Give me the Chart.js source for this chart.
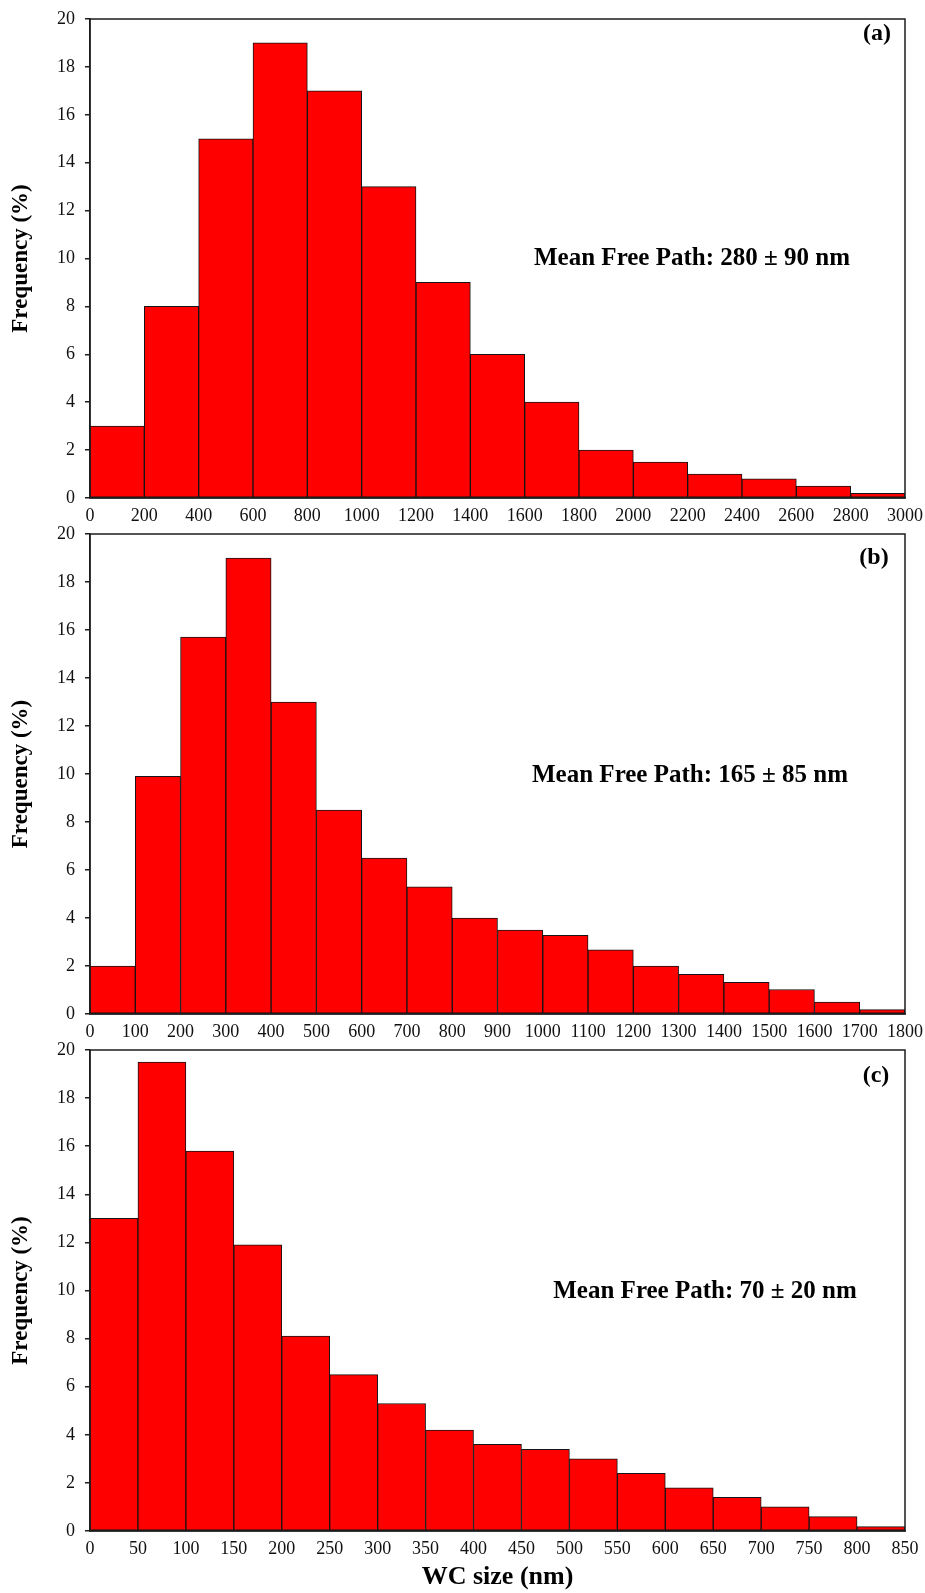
<!DOCTYPE html>
<html>
<head>
<meta charset="utf-8">
<script src="https://cdn.jsdelivr.net/npm/chart.js@4.4.1/dist/chart.umd.min.js"></script>
<style>
  html, body { margin: 0; padding: 0; background: #fff; }
  #wrap { position: relative; width: 925px; height: 1593px; background: #fff; }
  .panel { position: absolute; left: 0; width: 925px; }
</style>
</head>
<body>
<div id="wrap">
  <div class="panel" style="top:0;height:530px"><canvas id="chartA"></canvas></div>
  <div class="panel" style="top:520px;height:520px"><canvas id="chartB"></canvas></div>
  <div class="panel" style="top:1040px;height:553px"><canvas id="chartC"></canvas></div>
</div>
<script>
// (a) bins of 200 nm
const binsA = ['0-200', '200-400', '400-600', '600-800', '800-1000', '1000-1200', '1200-1400',
  '1400-1600', '1600-1800', '1800-2000', '2000-2200', '2200-2400', '2400-2600', '2600-2800', '2800-3000'];
const freqA = [3, 8, 15, 19, 17, 13, 9, 6, 4, 2, 1.5, 1, 0.8, 0.5, 0.2];
const ticksA = [0, 200, 400, 600, 800, 1000, 1200, 1400, 1600, 1800, 2000, 2200, 2400, 2600, 2800, 3000];

// (b) bins of 100 nm
const binsB = ['0-100', '100-200', '200-300', '300-400', '400-500', '500-600', '600-700', '700-800', '800-900',
  '900-1000', '1000-1100', '1100-1200', '1200-1300', '1300-1400', '1400-1500', '1500-1600', '1600-1700', '1700-1800'];
const freqB = [2, 9.9, 15.7, 19, 13, 8.5, 6.5, 5.3, 4, 3.5, 3.28, 2.67, 2, 1.65, 1.32, 1.02, 0.5, 0.18];
const ticksB = [0, 100, 200, 300, 400, 500, 600, 700, 800, 900, 1000, 1100, 1200, 1300, 1400, 1500, 1600, 1700, 1800];

// (c) bins of 50 nm
const binsC = ['0-50', '50-100', '100-150', '150-200', '200-250', '250-300', '300-350', '350-400', '400-450',
  '450-500', '500-550', '550-600', '600-650', '650-700', '700-750', '750-800', '800-850'];
const freqC = [13, 19.5, 15.8, 11.9, 8.1, 6.5, 5.3, 4.2, 3.6, 3.4, 3.0, 2.4, 1.8, 1.4, 1.0, 0.6, 0.18];
const ticksC = [0, 50, 100, 150, 200, 250, 300, 350, 400, 450, 500, 550, 600, 650, 700, 750, 800, 850];

const yTicks = [0, 2, 4, 6, 8, 10, 12, 14, 16, 18, 20];

const serif = '"Liberation Serif", "Times New Roman", serif';
const ink = '#1c1c1c';

// box round the plot area plus the free-text labels
const framePlugin = {
  id: 'frame',
  afterDraw(chart, args, opts) {
    const { ctx, chartArea: a } = chart;
    ctx.save();
    ctx.strokeStyle = ink;
    ctx.lineWidth = 1.5;
    ctx.strokeRect(a.left, a.top, a.right - a.left, a.bottom - a.top);
    ctx.fillStyle = '#000';
    ctx.textAlign = 'center';
    ctx.textBaseline = 'middle';
    ctx.font = 'bold 25px ' + serif;
    ctx.fillText(opts.note, opts.noteX, opts.noteY);
    ctx.font = 'bold 24px ' + serif;
    ctx.fillText(opts.tag, opts.tagX, opts.tagY);
    ctx.restore();
  }
};

function makeChart(id, bins, freq, ticks, o) {
  return new Chart(document.getElementById(id), {
    type: 'bar',
    data: {
      labels: bins,
      datasets: [{
        data: freq,
        xAxisID: 'xb',
        yAxisID: 'y',
        backgroundColor: '#ff0000',
        borderColor: '#141414',
        borderWidth: 1,
        borderSkipped: false,
        barPercentage: 1,
        categoryPercentage: 1,
      }],
    },
    options: {
      responsive: true,
      maintainAspectRatio: false,
      animation: false,
      layout: { padding: { top: o.top, right: 20, bottom: 0, left: 0 } },
      plugins: {
        legend: { display: false },
        tooltip: { enabled: false },
        frame: o.frame,
      },
      scales: {
        xb: { type: 'category', labels: bins, display: false, offset: true },
        x: {
          type: 'linear',
          position: 'bottom',
          offset: false,
          min: ticks[0],
          max: ticks[ticks.length - 1],
          afterBuildTicks: (s) => { s.ticks = ticks.map((v) => ({ value: v })); },
          afterFit: (s) => {
            s.height = o.xh;
            s.paddingLeft = 0;
            s.paddingRight = 0;
          },
          grid: { display: false, drawTicks: false, offset: false },
          border: { display: true, color: ink, width: 1.5 },
          ticks: {
            color: '#111',
            font: { family: serif, size: 18 },
            padding: 7,
            maxRotation: 0,
            autoSkip: false,
            callback: (v) => String(v),
          },
          title: o.xTitle
            ? { display: true, text: o.xTitle, color: '#000', font: { family: serif, size: 26, weight: 'bold' }, padding: { top: 0, bottom: 0 } }
            : { display: false },
        },
        y: {
          min: 0,
          max: 20,
          afterBuildTicks: (s) => { s.ticks = yTicks.map((v) => ({ value: v })); },
          afterFit: (s) => {
            s.width = 90;
            s.paddingTop = 0;
            s.paddingBottom = 0;
          },
          grid: { display: true, drawOnChartArea: false, drawTicks: true, tickLength: 5, color: ink, lineWidth: 1.5 },
          border: { display: true, color: ink, width: 1.5 },
          ticks: { color: '#111', font: { family: serif, size: 18 }, padding: 10, callback: (v) => String(v) },
          title: {
            display: true,
            text: 'Frequency (%)',
            color: '#000',
            font: { family: serif, size: 23, weight: 'bold' },
            padding: { top: 7, bottom: 0 },
          },
        },
      },
    },
    plugins: [framePlugin],
  });
}

makeChart('chartA', binsA, freqA, ticksA, {
  top: 19, xh: 32,
  frame: { note: 'Mean Free Path: 280 ± 90 nm', noteX: 692, noteY: 259, tag: '(a)', tagX: 877, tagY: 34 },
});
makeChart('chartB', binsB, freqB, ticksB, {
  top: 14, xh: 26,
  frame: { note: 'Mean Free Path: 165 ± 85 nm', noteX: 690, noteY: 256, tag: '(b)', tagX: 874, tagY: 38 },
});
makeChart('chartC', binsC, freqC, ticksC, {
  top: 10, xh: 62, xTitle: 'WC size (nm)',
  frame: { note: 'Mean Free Path: 70 ± 20 nm', noteX: 705, noteY: 252, tag: '(c)', tagX: 876, tagY: 36 },
});
</script>
</body>
</html>
